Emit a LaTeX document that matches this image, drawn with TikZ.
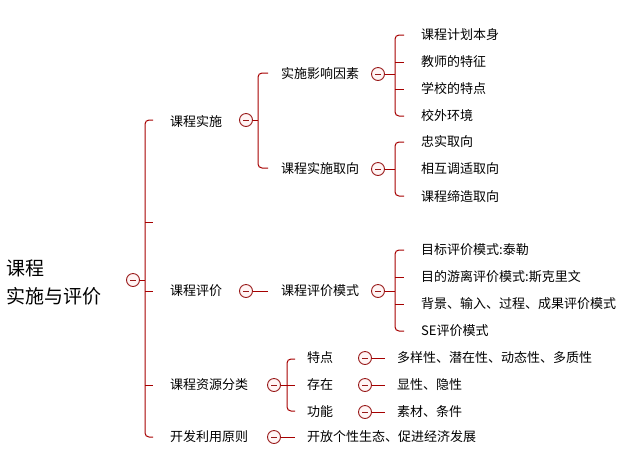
\documentclass[tikz,border=0pt]{standalone}
\usepackage{fontspec}
\setmainfont{Noto Sans CJK SC}
\begin{document}
\begin{tikzpicture}[x=1pt,y=-1pt,
  br/.style={draw=red!65!black,line width=1pt,rounded corners=4pt},
  txt/.style={anchor=west,inner sep=0pt,font=\fontsize{13}{15}\selectfont},
  cir/.style={circle,draw=red!55!black!90,fill=red!4,line width=0.9pt,minimum size=13pt,inner sep=0pt,
    path picture={\draw[red!55!black!90,line width=0.5pt] ([xshift=-3pt]path picture bounding box.center)--([xshift=3pt]path picture bounding box.center);}}]
\useasboundingbox (0,0) rectangle (628,459);
% root
\node[txt,align=left,font=\fontsize{19}{28}\selectfont] (root) at (6,282) {课程\\实施与评价};
\node[cir] (c0) at (133,280) {};
% level 1
\node[txt] (k1) at (170,122) {课程实施};
\node[txt] (k2) at (170,291) {课程评价};
\node[txt] (k3) at (170,385) {课程资源分类};
\node[txt] (k4) at (170,437) {开发利用原则};
\draw[br] (c0.east) -- (145,280);
\draw[br] (153,120) -- (145,120) -- (145,437) -- (153,437);
\foreach \y in {222,291,385} \draw[br] (145,\y) -- (153,\y);
% 课程实施
\node[cir] (c1) at (246,120) {};
\node[txt] (a1) at (281,74) {实施影响因素};
\node[txt] (a2) at (281,169) {课程实施取向};
\draw[br] (c1.east) -- (258,120);
\draw[br] (268,73) -- (258,73) -- (258,168) -- (268,168);
\node[cir] (ca1) at (378,74) {};
\draw[br] (ca1.east) -- (395,74);
\draw[br] (404,35) -- (395,35) -- (395,116) -- (404,116);
\foreach \y in {62,89} \draw[br] (395,\y) -- (404,\y);
\node[txt] at (421,35) {课程计划本身};
\node[txt] at (421,62) {教师的特征};
\node[txt] at (421,89) {学校的特点};
\node[txt] at (421,116) {校外环境};
\node[cir] (ca2) at (378,169) {};
\draw[br] (ca2.east) -- (395,169);
\draw[br] (404,142) -- (395,142) -- (395,196) -- (404,196);
\node[txt] at (421,142) {忠实取向};
\node[txt] at (421,169) {相互调适取向};
\node[txt] at (421,197) {课程缔造取向};
% 课程评价
\node[cir] (c2) at (246,291) {};
\node[txt] (b1) at (281,291) {课程评价模式};
\draw[br] (c2.east) -- (b1.west -| 268,0);
\node[cir] (cb1) at (378,291) {};
\draw[br] (cb1.east) -- (395,291);
\draw[br] (404,250) -- (395,250) -- (395,331) -- (404,331);
\foreach \y in {277,304} \draw[br] (395,\y) -- (404,\y);
\node[txt] at (421,250) {目标评价模式:泰勒};
\node[txt] at (421,277) {目的游离评价模式:斯克里文};
\node[txt] at (421,304) {背景、输入、过程、成果评价模式};
\node[txt] at (421,331) {SE评价模式};
% 课程资源分类
\node[cir] (c3) at (274,385) {};
\draw[br] (c3.east) -- (287,385);
\draw[br] (295,359) -- (287,359) -- (287,411) -- (295,411);
\draw[br] (287,385) -- (295,385);
\node[txt] (d1) at (307,358) {特点};
\node[txt] (d2) at (307,385) {存在};
\node[txt] (d3) at (307,412) {功能};
\foreach \n/\y/\t in {1/358/多样性、潜在性、动态性、多质性,2/385/显性、隐性,3/412/素材、条件}{
  \node[cir] (cd\n) at (365,\y) {};
  \node[txt] (e\n) at (397,\y) {\t};
  \draw[br] (cd\n.east) -- (e\n.west -| 385,0);
}
% 开发利用原则
\node[cir] (c4) at (274,437) {};
\node[txt] (f1) at (307,437) {开放个性生态、促进经济发展};
\draw[br] (c4.east) -- (f1.west -| 295,0);
\end{tikzpicture}
\end{document}
